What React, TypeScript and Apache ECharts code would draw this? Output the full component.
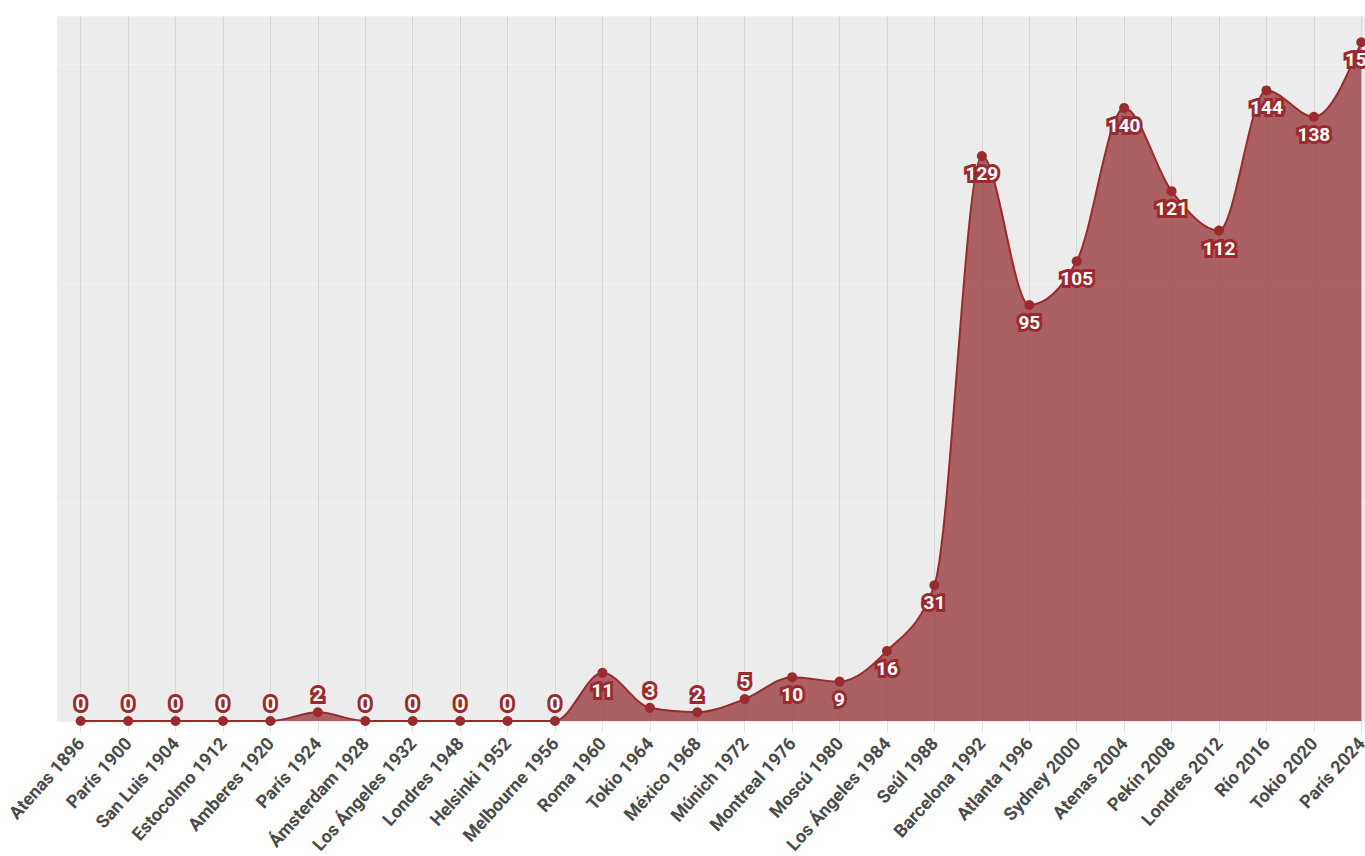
import React, { useEffect, useRef } from "react";
import * as echarts from "echarts";

const categories = [
  "Atenas 1896", "París 1900", "San Luis 1904", "Estocolmo 1912", "Amberes 1920",
  "París 1924", "Ámsterdam 1928", "Los Ángeles 1932", "Londres 1948", "Helsinki 1952",
  "Melbourne 1956", "Roma 1960", "Tokio 1964", "México 1968", "Múnich 1972",
  "Montreal 1976", "Moscú 1980", "Los Ángeles 1984", "Seúl 1988", "Barcelona 1992",
  "Atlanta 1996", "Sydney 2000", "Atenas 2004", "Pekín 2008", "Londres 2012",
  "Río 2016", "Tokio 2020", "París 2024",
];
const values = [
  0, 0, 0, 0, 0, 2, 0, 0, 0, 0, 0, 11, 3, 2, 5, 10, 9, 16, 31, 129, 95, 105, 140, 121, 112, 144, 138, 155,
];
const yMin = 0;
const yMax = 161;
const yInterval = 50;

const LINE = "#9b2a2e";
const AREA = "rgba(150,50,54,0.75)";

function monotonePath(pts: number[][]): string {
  const n = pts.length;
  const sign = (x: number) => (x < 0 ? -1 : 1);
  const t = new Array(n).fill(0);
  for (let i = 1; i < n - 1; i++) {
    const [x0, y0] = pts[i - 1];
    const [x1, y1] = pts[i];
    const [x2, y2] = pts[i + 1];
    const h0 = x1 - x0, h1 = x2 - x1;
    const s0 = (y1 - y0) / h0, s1 = (y2 - y1) / h1;
    const p = (s0 * h1 + s1 * h0) / (h0 + h1);
    t[i] = (sign(s0) + sign(s1)) * Math.min(Math.abs(s0), Math.abs(s1), 0.5 * Math.abs(p)) || 0;
  }
  const slope2 = (a: number[], b: number[], tt: number) => {
    const h = b[0] - a[0];
    return h ? (3 * (b[1] - a[1]) / h - tt) / 2 : tt;
  };
  if (n > 1) {
    t[0] = slope2(pts[0], pts[1], t[1]);
    t[n - 1] = slope2(pts[n - 2], pts[n - 1], t[n - 2]);
  }
  let d = `M${pts[0][0]},${pts[0][1]}`;
  for (let i = 0; i < n - 1; i++) {
    const [x0, y0] = pts[i];
    const [x1, y1] = pts[i + 1];
    const dx = (x1 - x0) / 3;
    d += ` C${x0 + dx},${y0 + dx * t[i]} ${x1 - dx},${y1 - dx * t[i + 1]} ${x1},${y1}`;
  }
  return d;
}

export default function App() {
  const ref = useRef<HTMLDivElement>(null);
  useEffect(() => {
    if (!ref.current) return;
    const chart = echarts.init(ref.current, undefined, { renderer: "svg" });
    chart.setOption({
      animation: false,
      textStyle: { fontFamily: "Roboto" },
      grid: {
        show: true,
        backgroundColor: "#ececec",
        borderWidth: 0,
        left: 57,
        top: 16,
        width: 1328,
        height: 706,
        containLabel: false,
      },
      xAxis: {
        type: "category",
        data: categories,
        boundaryGap: true,
        axisLine: { show: false },
        axisTick: { show: true, alignWithLabel: true, length: 12, lineStyle: { color: "#e2e2e2" } },
        splitLine: { show: true, alignWithLabel: true, lineStyle: { color: "#d7d7d7", width: 1 } },
        axisLabel: {
          rotate: 48,
          interval: 0,
          margin: 19,
          color: "#4a4a4a",
          fontSize: 18,
          fontWeight: "bold",
          fontFamily: "Roboto",
        },
      },
      yAxis: {
        type: "value",
        min: yMin,
        max: yMax,
        interval: yInterval,
        axisLine: { show: false },
        axisTick: { show: false },
        axisLabel: { show: false },
        splitLine: { show: true, lineStyle: { color: "#f3f3f3", width: 1 } },
      },
      series: [
        {
          type: "custom",
          z: 2,
          silent: true,
          clip: false,
          data: values.map((v, i) => [i, v]),
          encode: { x: 0, y: 1 },
          renderItem: (params: any, api: any) => {
            if (params.dataIndex !== 0) return null;
            const pts = values.map((v, i) => api.coord([i, v]));
            const base = api.coord([0, 0])[1];
            const line = monotonePath(pts);
            const area =
              line + ` L${pts[pts.length - 1][0]},${base} L${pts[0][0]},${base} Z`;
            return {
              type: "group",
              children: [
                { type: "path", shape: { pathData: area }, style: { fill: AREA, stroke: null } },
                { type: "path", shape: { pathData: line }, style: { fill: null, stroke: LINE, lineWidth: 2 } },
              ],
            };
          },
        },
        {
          type: "line",
          z: 3,
          data: values.map((v) => ({
            value: v,
            label: { position: v > 5 ? "bottom" : "top" },
          })),
          symbol: "circle",
          symbolSize: 10,
          lineStyle: { width: 0, opacity: 0 },
          itemStyle: { color: LINE },
          label: {
            show: true,
            distance: 3,
            color: "#ffffff",
            fontFamily: "Roboto",
            fontWeight: "bold",
            fontSize: 19,
            textBorderColor: LINE,
            textBorderWidth: 6,
          },
        },
      ],
    });
    return () => chart.dispose();
  }, []);
  return (
    <div
      style={{ position: "absolute", left: 0, top: 0, width: 1365, height: 856, overflow: "hidden" }}
    >
      <div ref={ref} style={{ width: 1400, height: 856 }} />
    </div>
  );
}
